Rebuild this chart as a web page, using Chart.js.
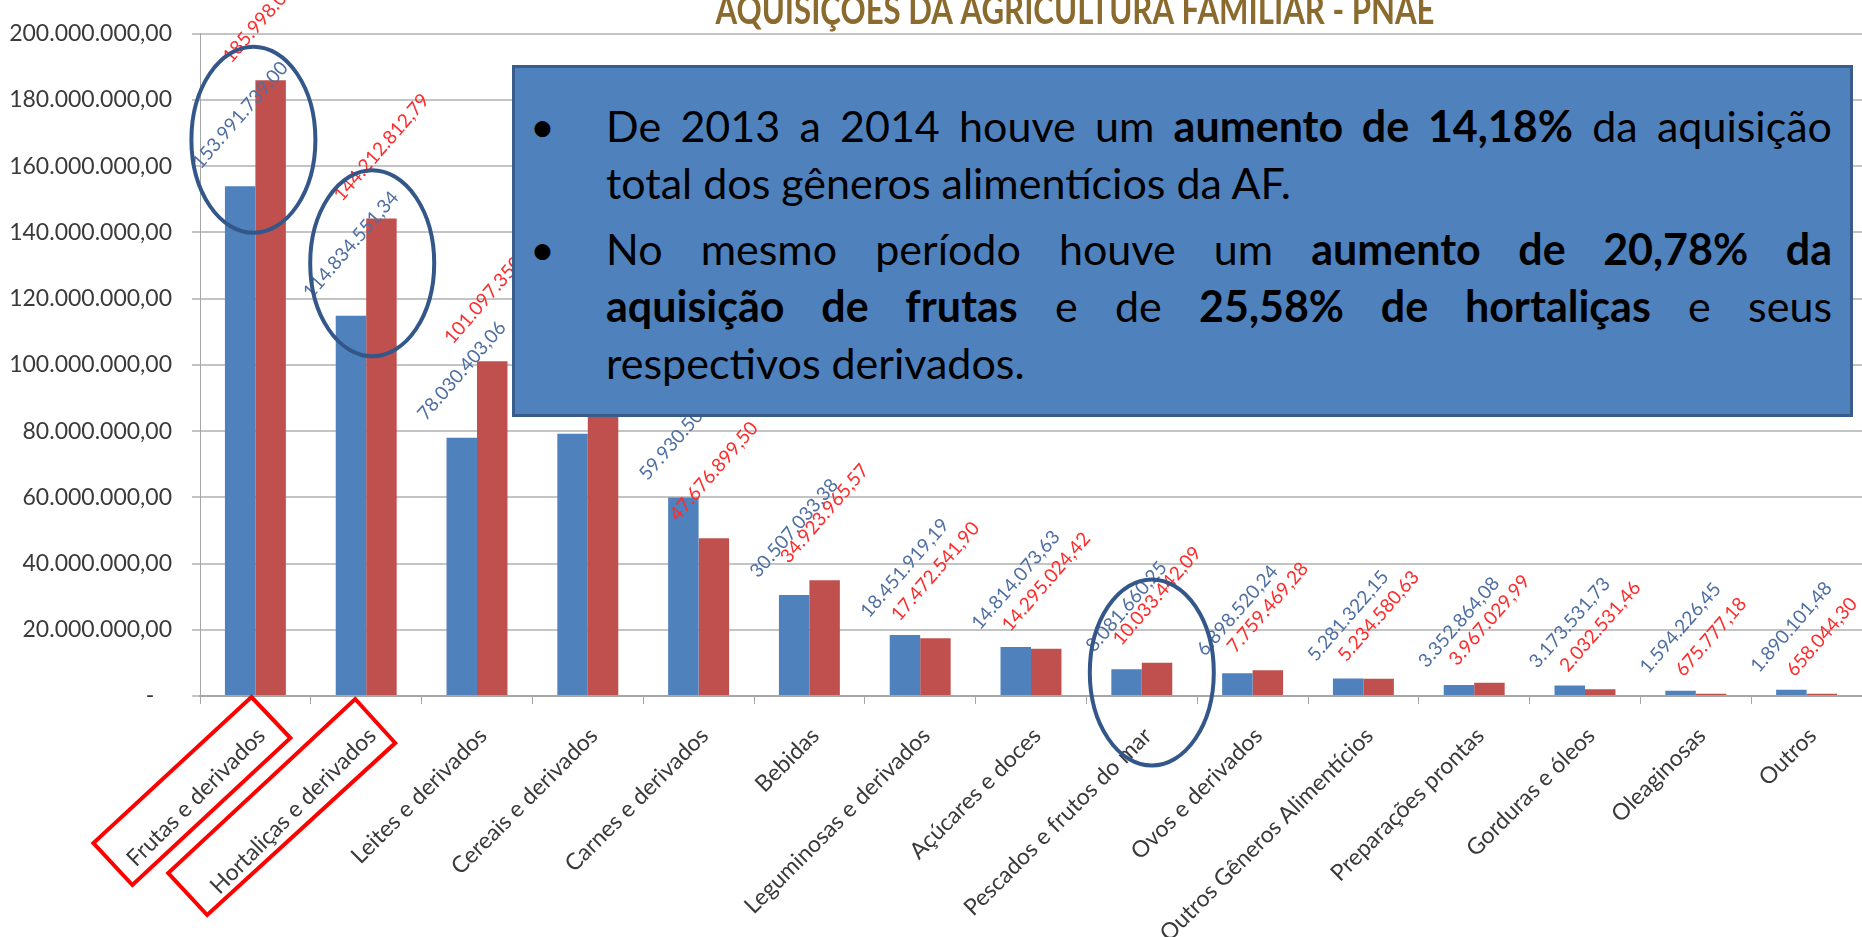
<!DOCTYPE html>
<html>
<head>
<meta charset="utf-8">
<script src="https://cdn.jsdelivr.net/npm/chart.js@4.4.1/dist/chart.umd.min.js"></script>
<style>
  html, body { margin: 0; padding: 0; background: #fff; overflow: hidden; }
  #wrap { position: relative; width: 1862px; height: 937px; }
  #chart { position: absolute; left: 0; top: 0; }
  #box {
    position: absolute; left: 512px; top: 65px; width: 1341px; height: 352px;
    box-sizing: border-box; background: #4F81BD; border: 3px solid #385D8A;
  }
  .para { position: absolute; left: 606px; width: 1226px; font-family: Lato, sans-serif; font-size: 43px; line-height: 57px; color: #000; }
  .para div { text-align: justify; text-align-last: justify; }
  .para div.last { text-align-last: left; }
  .bullet { position: absolute; left: 530px; font-family: Lato, sans-serif; font-size: 43px; line-height: 57px; color: #000; }
</style>
</head>
<body>
<div id="wrap">
  <canvas id="chart" width="1862" height="937"></canvas>
  <div id="box"></div>
  <div class="bullet" style="top:97px">•</div>
  <div class="para" style="top:97px">
    <div>De 2013 a 2014 houve um <b>aumento de 14,18%</b> da aquisição</div>
    <div class="last">total dos gêneros alimentícios da AF.</div>
  </div>
  <div class="bullet" style="top:220px">•</div>
  <div class="para" style="top:220px">
    <div>No mesmo período houve um <b>aumento de 20,78% da</b></div>
    <div><b>aquisição de frutas</b> e de <b>25,58% de hortaliças</b> e seus</div>
    <div class="last">respectivos derivados.</div>
  </div>
</div>
<script>
const categories = [
  "Frutas e derivados", "Hortaliças e derivados", "Leites e derivados", "Cereais e derivados",
  "Carnes e derivados", "Bebidas", "Leguminosas e derivados", "Açúcares e doces",
  "Pescados e frutos do mar", "Ovos e derivados", "Outros Gêneros Alimentícios",
  "Preparações prontas", "Gorduras e óleos", "Oleaginosas", "Outros"
];
const values2013 = [
  153991739.00, 114834551.34, 78030403.06, 79200000.00, 59930500.00, 30507033.38,
  18451919.19, 14814073.63, 8081660.25, 6898520.24, 5281322.15, 3352864.08,
  3173531.73, 1594226.45, 1890101.48
];
const values2014 = [
  185998000.00, 144212812.79, 101097350.00, 88000000.00, 47676899.50, 34923965.57,
  17472541.90, 14295024.42, 10033442.09, 7759469.28, 5234580.63, 3967029.99,
  2032531.46, 675777.18, 658044.30
];
const seriesNames = ["2013", "2014"];
const yMax = 200000000;
const yStep = 20000000;

function fmtBR(v) {
  const parts = v.toFixed(2).split(".");
  return parts[0].replace(/\B(?=(\d{3})+(?!\d))/g, ".") + "," + parts[1];
}

const labelColors = ["#4F6FA3", "#FF2B2B"];

// rotated value labels above every bar
const valueLabels = {
  id: "valueLabels",
  afterDatasetsDraw(chart) {
    const ctx = chart.ctx;
    const a = 49 * Math.PI / 180;
    ctx.save();
    ctx.font = "19px Lato";
    chart.data.datasets.forEach((ds, di) => {
      const meta = chart.getDatasetMeta(di);
      ctx.fillStyle = labelColors[di];
      meta.data.forEach((bar, i) => {
        const t = fmtBR(ds.data[i]);
        const w = ctx.measureText(t).width;
        const bh = w * Math.sin(a) + 19 * Math.cos(a);
        ctx.save();
        ctx.translate(bar.x, bar.y - 14 - bh / 2);
        ctx.rotate(-a);
        ctx.textAlign = "center";
        ctx.textBaseline = "middle";
        ctx.fillText(t, 0, 0);
        ctx.restore();
      });
    });
    ctx.restore();
  }
};

// category names, rotated 45 degrees under the axis
const categoryLabels = {
  id: "categoryLabels",
  afterDraw(chart) {
    const ctx = chart.ctx;
    const x = chart.scales.x;
    ctx.save();
    ctx.font = "23px Lato";
    ctx.fillStyle = "#3A3A3A";
    ctx.textAlign = "right";
    ctx.textBaseline = "middle";
    chart.data.labels.forEach((lab, i) => {
      ctx.save();
      ctx.translate(x.getPixelForValue(i) + 6, x.top + 36);
      ctx.rotate(-Math.PI / 4);
      ctx.fillText(lab, 0, 0);
      ctx.restore();
    });
    ctx.restore();
  }
};

// title, ellipses and red boxes drawn on top
const decorations = {
  id: "decorations",
  afterDraw(chart) {
    const ctx = chart.ctx;
    const x = chart.scales.x, y = chart.scales.y;
    ctx.save();

    const title = "AQUISIÇOES DA AGRICULTURA FAMILIAR - PNAE";
    ctx.font = "bold 40px Lato";
    const tw = ctx.measureText(title).width;
    ctx.save();
    ctx.translate(1075, 24);
    ctx.scale(719 / tw, 1);
    ctx.fillStyle = "#8B6A2E";
    ctx.textAlign = "center";
    ctx.textBaseline = "alphabetic";
    ctx.fillText(title, 0, 0);
    ctx.restore();

    ctx.strokeStyle = "#34578A";
    ctx.lineWidth = 4;
    [[0, -2, 168e6], [1, 6, 130.7e6], [8, 10, 7.1e6]].forEach(([i, dx, v]) => {
      ctx.beginPath();
      ctx.ellipse(x.getPixelForValue(i) + dx, y.getPixelForValue(v), 62, 93, 0, 0, Math.PI * 2);
      ctx.stroke();
    });

    ctx.strokeStyle = "#FF0000";
    ctx.lineWidth = 4;
    const boxes = [
      [0, [[-4, 697], [35, 738], [-123, 885], [-162, 843]]],
      [1, [[-11, 699], [29, 743], [-159, 915], [-198, 873]]]
    ];
    boxes.forEach(([i, pts]) => {
      const cx = x.getPixelForValue(i);
      ctx.beginPath();
      pts.forEach((p, k) => k ? ctx.lineTo(cx + p[0], p[1]) : ctx.moveTo(cx + p[0], p[1]));
      ctx.closePath();
      ctx.stroke();
    });
    ctx.restore();
  }
};

new Chart(document.getElementById("chart").getContext("2d"), {
  type: "bar",
  data: {
    labels: categories,
    datasets: [
      { label: seriesNames[0], data: values2013, backgroundColor: "#4F81BD", borderWidth: 0 },
      { label: seriesNames[1], data: values2014, backgroundColor: "#C0504D", borderWidth: 0 }
    ]
  },
  options: {
    responsive: false,
    animation: false,
    devicePixelRatio: 1,
    layout: { padding: { top: 21, left: 0, right: 0, bottom: 0 } },
    datasets: { bar: { categoryPercentage: 0.55, barPercentage: 1 } },
    plugins: { legend: { display: false }, tooltip: { enabled: false } },
    scales: {
      x: {
        afterFit: (s) => { s.height = 241; },
        grid: { offset: true, drawOnChartArea: false, tickLength: 8, color: "#A6A6A6", lineWidth: 1 },
        border: { color: "#A6A6A6", width: 2 },
        ticks: { display: false, autoSkip: false }
      },
      y: {
        min: 0, max: yMax,
        afterFit: (s) => { s.width = 200; },
        grid: { color: "#C4C4C4", lineWidth: 2, tickLength: 8 },
        border: { color: "#A6A6A6", width: 1 },
        ticks: {
          stepSize: yStep, padding: 20, color: "#3A3A3A",
          font: { family: "Lato", size: 23 },
          callback: (v) => v === 0 ? "-   " : fmtBR(v)
        }
      }
    }
  },
  plugins: [valueLabels, categoryLabels, decorations]
});
</script>
</body>
</html>
